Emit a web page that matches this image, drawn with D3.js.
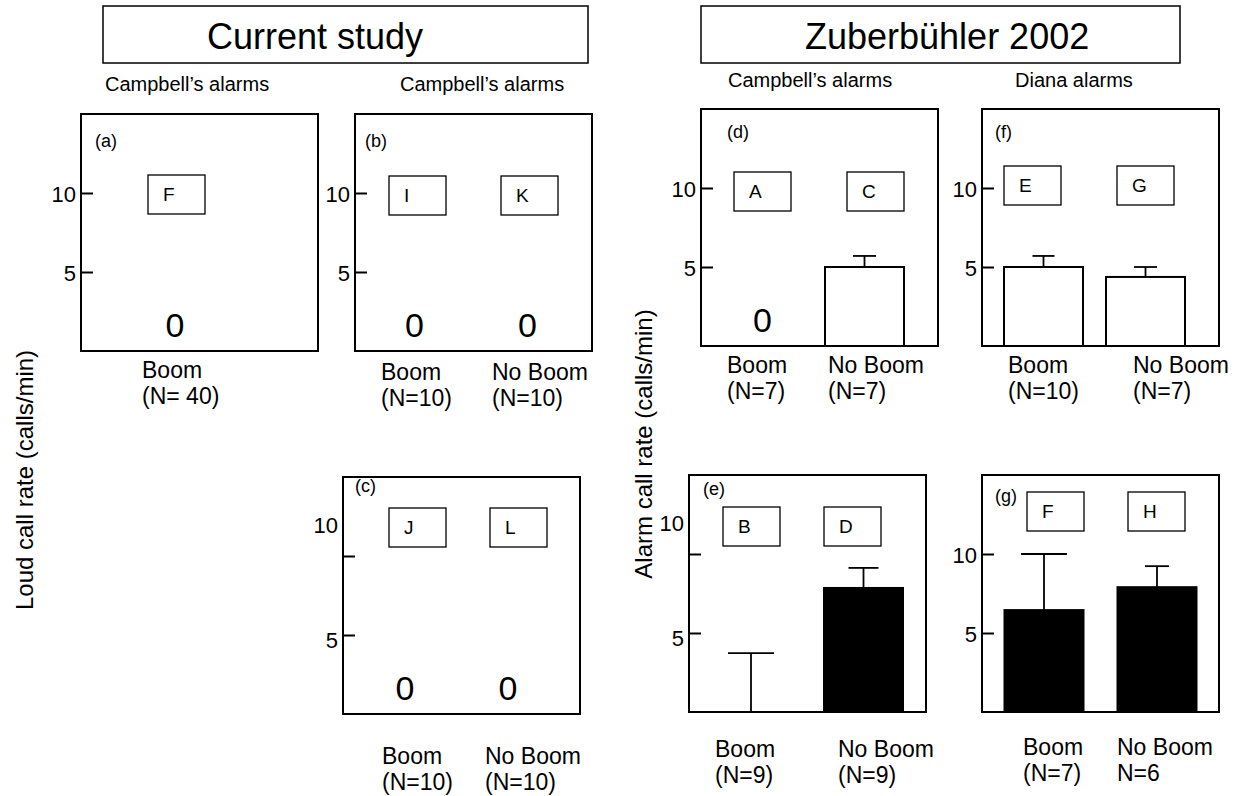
<!DOCTYPE html>
<html>
<head>
<meta charset="utf-8">
<script src="https://cdn.jsdelivr.net/npm/d3@7"></script>
<style>
  body { margin: 0; background: #fff; }
  svg { display: block; font-family: "Liberation Sans", Arial, sans-serif; }
</style>
</head>
<body>
<div id="chart"></div>
<script>
// ---- data ----
const panelIds = ["a", "b", "c", "d", "e", "f", "g"];
const panelCats = [
  ["Boom"],
  ["Boom", "No Boom"],
  ["Boom", "No Boom"],
  ["Boom", "No Boom"],
  ["Boom", "No Boom"],
  ["Boom", "No Boom"],
  ["Boom", "No Boom"]
];
const sampleSizes = [
  ["(N= 40)"],
  ["(N=10)", "(N=10)"],
  ["(N=10)", "(N=10)"],
  ["(N=7)", "(N=7)"],
  ["(N=9)", "(N=9)"],
  ["(N=10)", "(N=7)"],
  ["(N=7)", "N=6"]
];
const means = [[0], [0, 0], [0, 0], [0, 5.0], [0, 7.85], [5.0, 4.37], [6.45, 7.9]];
const errors = [[0], [0, 0], [0, 0], [0, 0.7], [3.73, 1.27], [0.7, 0.63], [3.55, 1.33]];
const letters = [["F"], ["I", "K"], ["J", "L"], ["A", "C"], ["B", "D"], ["E", "G"], ["F", "H"]];
const yTicks = [5, 10];
const titles = ["Current study", "Zuberbühler 2002"];
const subtitles = ["Campbell’s alarms", "Campbell’s alarms", "Campbell’s alarms", "Diana alarms"];
const yTitles = ["Loud call rate (calls/min)", "Alarm call rate (calls/min)"];

// ---- layout ----
const W = 1239, H = 796;
const PW = 237, PH = 237;
const BAR_W = 79;
const layout = [
  { left: 81,  top: 114, xr: [54, 134],    fill: "#fff", boxY: 61, boxX: [67],      labX: [61],      labY: 27, tag: [14, 33], tenDy: 0,   caps: [0] },
  { left: 355, top: 114, xr: [59.5, 172.5], fill: "#fff", boxY: 62, boxX: [34, 146], labX: [26, 137], labY: 29, tag: [10, 33], tenDy: 0,   caps: [0, 0] },
  { left: 343, top: 477, xr: [62, 165],    fill: "#fff", boxY: 31, boxX: [46, 147], labX: [39, 142], labY: 50, tag: [12, 15], tenDy: -32, caps: [0, 0] },
  { left: 701, top: 109, xr: [61.5, 163.5], fill: "#fff", boxY: 63, boxX: [33, 146], labX: [26, 127], labY: 27, tag: [26, 29], tenDy: 0,   caps: [0, 23] },
  { left: 689, top: 475, xr: [62, 174.5],  fill: "#000", boxY: 32, boxX: [34, 135], labX: [26, 149], labY: 45, tag: [14, 20], tenDy: -32, caps: [46, 30] },
  { left: 982, top: 109, xr: [61.5, 163.5], fill: "#fff", boxY: 57, boxX: [22, 135], labX: [26, 151], labY: 27, tag: [13, 29], tenDy: 0,   caps: [22, 23] },
  { left: 982, top: 475, xr: [62, 175],    fill: "#000", boxY: 17, boxX: [45, 146], labX: [41, 135], labY: 43, tag: [13, 27], tenDy: 0,   caps: [46, 24] }
];

const svg = d3.select("#chart").append("svg")
  .attr("width", W)
  .attr("height", H);

// titles in boxes
const titleBoxes = [[103, 6, 485, 57, 207], [701, 6, 479, 57, 805]];
titleBoxes.forEach((b, i) => {
  svg.append("rect")
    .attr("x", b[0]).attr("y", b[1])
    .attr("width", b[2]).attr("height", b[3])
    .attr("fill", "none").attr("stroke", "#000").attr("stroke-width", 1.5);
  svg.append("text")
    .attr("x", b[4]).attr("y", b[1] + 43)
    .attr("font-size", 36)
    .text(titles[i]);
});

// subtitles
const subPos = [[105, 91], [400, 91], [728, 87], [1015, 87]];
subtitles.forEach((s, i) => {
  svg.append("text")
    .attr("x", subPos[i][0]).attr("y", subPos[i][1])
    .attr("font-size", 20)
    .text(s);
});

// y titles
const yTitlePos = [[24, 480], [643, 444]];
yTitles.forEach((t, i) => {
  svg.append("text")
    .attr("transform", `translate(${yTitlePos[i][0]},${yTitlePos[i][1]}) rotate(-90)`)
    .attr("text-anchor", "middle")
    .attr("dominant-baseline", "central")
    .attr("font-size", 24)
    .text(t);
});

const y = d3.scaleLinear().domain([0, 15]).range([PH, 0]);

panelIds.forEach((id, p) => {
  const L = layout[p];
  const g = svg.append("g").attr("transform", `translate(${L.left},${L.top})`);
  const x = d3.scalePoint().domain(panelCats[p]).range(L.xr).padding(0);
  const rows = panelCats[p].map((c, i) => ({
    cat: c, mean: means[p][i], se: errors[p][i], n: sampleSizes[p][i],
    letter: letters[p][i], cap: L.caps[i], bx: L.boxX[i], lx: L.labX[i]
  }));

  // bars
  g.selectAll("rect.bar")
    .data(rows.filter(d => d.mean > 0))
    .join("rect")
    .attr("class", "bar")
    .attr("x", d => x(d.cat) - BAR_W / 2)
    .attr("y", d => y(d.mean))
    .attr("width", BAR_W)
    .attr("height", d => y(0) - y(d.mean))
    .attr("fill", L.fill)
    .attr("stroke", "#000")
    .attr("stroke-width", 2);

  // error bars
  const eb = g.selectAll("g.err")
    .data(rows.filter(d => d.se > 0))
    .join("g")
    .attr("class", "err");
  eb.append("line")
    .attr("x1", d => x(d.cat)).attr("x2", d => x(d.cat))
    .attr("y1", d => y(d.mean)).attr("y2", d => y(d.mean + d.se))
    .attr("stroke", "#000").attr("stroke-width", 1.8);
  eb.append("line")
    .attr("x1", d => x(d.cat) - d.cap / 2).attr("x2", d => x(d.cat) + d.cap / 2)
    .attr("y1", d => y(d.mean + d.se)).attr("y2", d => y(d.mean + d.se))
    .attr("stroke", "#000").attr("stroke-width", 1.8);

  // zero labels
  g.selectAll("text.zero")
    .data(rows.filter(d => d.mean === 0 && d.se === 0))
    .join("text")
    .attr("class", "zero")
    .attr("x", d => x(d.cat))
    .attr("y", y(0) - 14)
    .attr("text-anchor", "middle")
    .attr("font-size", 34)
    .text("0");

  // letter boxes
  const lb = g.selectAll("g.lbox").data(rows).join("g").attr("class", "lbox");
  lb.append("rect")
    .attr("x", d => d.bx).attr("y", L.boxY)
    .attr("width", 57).attr("height", 39)
    .attr("fill", "#fff").attr("stroke", "#000").attr("stroke-width", 1.3);
  lb.append("text")
    .attr("x", d => d.bx + 15).attr("y", L.boxY + 26)
    .attr("font-size", 19)
    .text(d => d.letter);

  // axis (ticks point inward)
  const ax = g.append("g")
    .call(d3.axisLeft(y).tickValues(yTicks).tickSize(-12).tickPadding(6).tickFormat(d3.format("d")));
  ax.select(".domain").remove();
  ax.selectAll(".tick line").attr("stroke", "#000").attr("stroke-width", 2);
  ax.selectAll(".tick text")
    .attr("font-size", 22)
    .attr("font-family", "Liberation Sans, Arial, sans-serif")
    .attr("fill", "#000")
    .attr("x", -5)
    .attr("dy", d => (d === 10 ? L.tenDy : (L.tenDy ? 4 : 0)) + 8);

  // frame
  g.append("rect")
    .attr("width", PW).attr("height", PH)
    .attr("fill", "none").attr("stroke", "#000").attr("stroke-width", 2);

  // panel tag
  g.append("text")
    .attr("x", L.tag[0]).attr("y", L.tag[1])
    .attr("font-size", 18)
    .text(`(${id})`);

  // category labels
  const cl = g.selectAll("text.cat").data(rows).join("text")
    .attr("class", "cat")
    .attr("font-size", 23);
  cl.append("tspan")
    .attr("x", d => d.lx).attr("y", PH + L.labY)
    .text(d => d.cat);
  cl.append("tspan")
    .attr("x", d => d.lx).attr("y", PH + L.labY + 26)
    .text(d => d.n);
});
</script>
</body>
</html>
